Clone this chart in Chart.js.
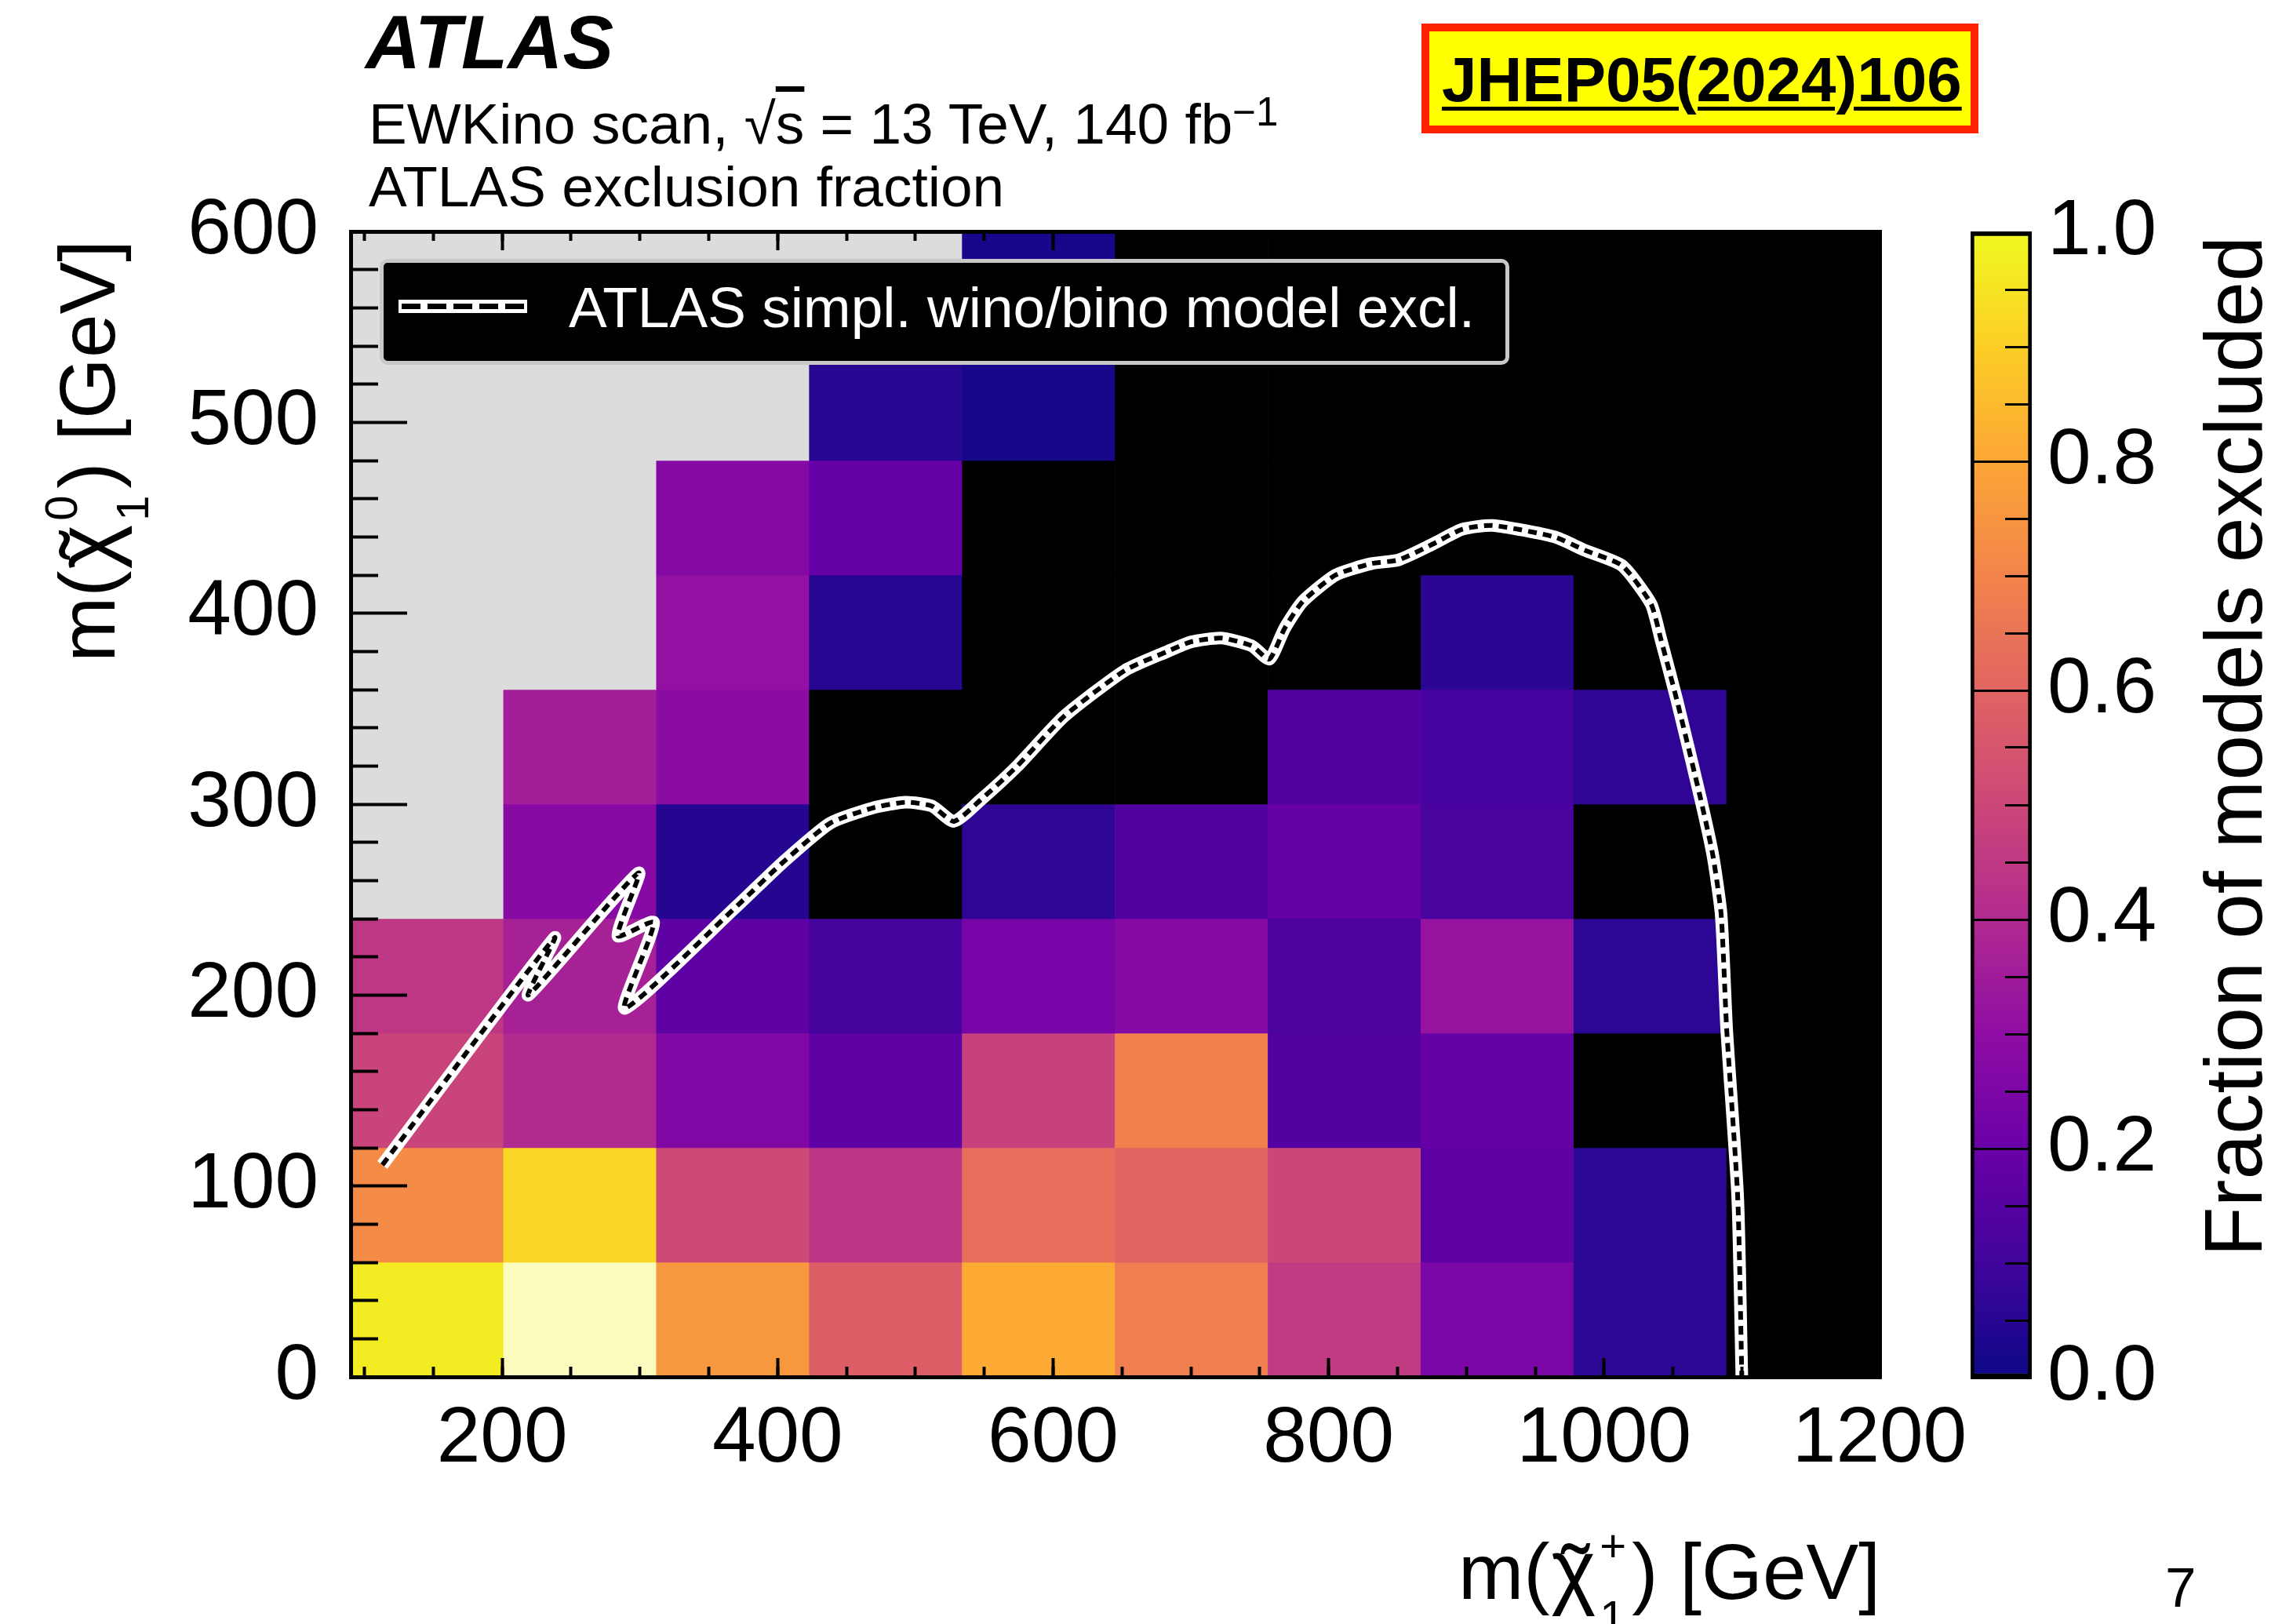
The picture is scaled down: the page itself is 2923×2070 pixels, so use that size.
<!DOCTYPE html>
<html>
<head>
<meta charset="utf-8">
<script src="https://cdn.jsdelivr.net/npm/chart.js@4.4.1/dist/chart.umd.min.js"></script>
<style>
  html, body { margin: 0; padding: 0; background: #fff; }
  body { position: relative; width: 2923px; height: 2070px; overflow: hidden;
         font-family: "Liberation Sans", Arial, sans-serif; color: #000; }
  canvas { position: absolute; top: 0; }
  .abs { position: absolute; white-space: nowrap; line-height: 1; }
  .rot { transform-origin: 0 0; transform: rotate(-90deg); }
  .chi { position: relative; display: inline-block; font-size: 108%; margin-left: 2px; }
  .chi .tl { position: absolute; left: 0.12em; top: 0.06em; }
  .ss { position: relative; display: inline-block; width: 46px; height: 10px; }
  .ss .sup, .ss .sub { position: absolute; left: 5px; font-size: 58px; line-height: 1; }
  .ss .sup { top: -87px; }
  .ss .sub { top: 4px; }
</style>
</head>
<body>
<canvas id="main" width="2556" height="2070" style="left:0"></canvas>
<canvas id="cbar" width="443" height="2070" style="left:2480px"></canvas>

<div class="abs" style="left:466px;top:5px;font-size:97px;font-weight:bold;font-style:italic">ATLAS</div>
<div class="abs" style="left:470px;top:121px;font-size:73px">EWKino scan, √<span style="text-decoration:overline">s</span> = 13 TeV, 140 fb<span style="position:relative;top:-0.45em;font-size:0.7em">−1</span></div>
<div class="abs" style="left:470px;top:201px;font-size:73px">ATLAS exclusion fraction</div>

<div style="position:absolute;left:1812px;top:30px;width:710px;height:140px;box-sizing:border-box;border:10px solid #ff2200;background:#ffff00"></div>
<div class="abs" style="left:1838px;top:62px;font-size:80px;font-weight:bold;text-decoration:underline;text-decoration-thickness:5px;text-underline-offset:7px">JHEP05(2024)106</div>

<div style="position:absolute;left:484px;top:330px;width:1440px;height:135px;box-sizing:border-box;background:#000;border:5px solid #c8c8c8;border-radius:10px"></div>
<svg style="position:absolute;left:508px;top:382px" width="164" height="17">
  <rect x="0" y="0" width="164" height="17" fill="#fff"/>
  <line x1="4" y1="8.5" x2="160" y2="8.5" stroke="#000" stroke-width="7" stroke-dasharray="24 9"/>
</svg>
<div class="abs" style="left:725px;top:355px;font-size:73px;color:#fff">ATLAS simpl. wino/bino model excl.</div>

<div class="abs rot" style="left:55px;top:906px;width:600px;text-align:right;font-size:100px">m(<span class="chi">χ<span class="tl">˜</span></span><span class="ss"><span class="sup">0</span><span class="sub">1</span></span>) [GeV]</div>
<div class="abs" style="right:526px;top:1947px;font-size:100px">m(<span class="chi">χ<span class="tl">˜</span></span><span class="ss"><span class="sup">+</span><span class="sub">1</span></span>) [GeV]</div>
<div class="abs rot" style="left:2795px;top:1701px;width:1400px;text-align:right;font-size:104px">Fraction of models excluded</div>
<div class="abs" style="left:2760px;top:1988px;font-size:71px">7</div>

<script>
// scan grid: bin edges in m(chargino) and m(neutralino), GeV
const charginoEdges = [90, 201, 312, 423, 534, 645, 756, 867, 978, 1089, 1200];
const neutralinoEdges = [0, 60, 120, 180, 240, 300, 360, 420, 480, 540, 600];

// fraction of models excluded, one row per neutralino bin (lowest first)
// null = no models in bin (grey), 0 = none excluded (black)
const excl_0_60    = [0.97, 1.00, 0.76, 0.58, 0.81, 0.68, 0.46, 0.245, 0.06, 0];
const excl_60_120  = [0.72, 0.92, 0.51, 0.44, 0.63, 0.60, 0.50, 0.17, 0.06, 0];
const excl_120_180 = [0.49, 0.40, 0.265, 0.17, 0.48, 0.69, 0.14, 0.19, 0, 0];
const excl_180_240 = [0.445, 0.37, 0.17, 0.11, 0.235, 0.27, 0.13, 0.32, 0.06, 0];
const excl_240_300 = [null, 0.28, 0.045, 0, 0.065, 0.14, 0.19, 0.12, 0, 0];
const excl_300_360 = [null, 0.36, 0.29, 0, 0, 0, 0.14, 0.115, 0.065, 0];
const excl_360_420 = [null, null, 0.31, 0.05, 0, 0, 0, 0.055, 0, 0];
const excl_420_480 = [null, null, 0.27, 0.19, 0, 0, 0, 0, 0, 0];
const excl_480_540 = [null, null, null, 0.05, 0.02, 0, 0, 0, 0, 0];
const excl_540_600 = [null, null, null, null, 0.02, 0, 0, 0, 0, 0];
const exclRows = [excl_0_60, excl_60_120, excl_120_180, excl_180_240, excl_240_300,
                  excl_300_360, excl_360_420, excl_420_480, excl_480_540, excl_540_600];

// ATLAS simplified wino/bino exclusion contour
const contourMC = [113, 238, 219, 299, 284, 310, 289, 371, 403, 438, 469, 493, 512, 528, 547, 574,
                   608, 652, 683, 700, 722, 744, 757, 768, 781, 805, 831, 851, 875, 897, 919, 964,
                   986, 1013, 1034, 1041, 1053, 1070, 1079, 1085, 1089, 1097, 1100];
const contourMN = [111, 230, 200, 264, 231, 238, 193, 247, 269, 290, 298, 301, 299, 291, 302, 320,
                   346, 370, 380, 385, 387, 383, 376, 392, 406, 420, 426, 428, 436, 444, 446, 440,
                   433, 425, 405, 387, 354, 303, 273, 242, 182, 94, 0];

// ticks
const xMajorTicks = [200, 400, 600, 800, 1000, 1200];
const xMinorTicks = [100, 150, 200, 250, 300, 350, 400, 450, 500, 550, 600, 650, 700, 750,
                     800, 850, 900, 950, 1000, 1050, 1100, 1150, 1200];
const yMajorTicks = [0, 100, 200, 300, 400, 500, 600];
const yMinorTicks = [20, 40, 60, 80, 120, 140, 160, 180, 220, 240, 260, 280, 320, 340, 360, 380,
                     420, 440, 460, 480, 520, 540, 560, 580];
const cbMajorTicks = [0, 0.2, 0.4, 0.6, 0.8, 1.0];
const cbMinorTicks = [0.05, 0.1, 0.15, 0.25, 0.3, 0.35, 0.45, 0.5, 0.55, 0.65, 0.7, 0.75,
                      0.85, 0.9, 0.95];

// plasma palette stops at 0, 0.1, ..., 1
const plasma = ['#0d0887', '#41049d', '#6a00a8', '#8f0da4', '#b12a90', '#cc4778',
                '#e16462', '#f2844b', '#fca636', '#fcce25', '#f0f921'];

const FONT = '"Liberation Sans", Arial, sans-serif';

function hexRgb(h) {
    return [parseInt(h.slice(1, 3), 16), parseInt(h.slice(3, 5), 16), parseInt(h.slice(5, 7), 16)];
}

function plasmaColor(v) {
    const t = Math.max(0, Math.min(1, v)) * (plasma.length - 1);
    const i = Math.min(Math.floor(t), plasma.length - 2);
    const f = t - i;
    const a = hexRgb(plasma[i]), b = hexRgb(plasma[i + 1]);
    const c = a.map((x, k) => Math.round(x + (b[k] - x) * f));
    return `rgb(${c[0]},${c[1]},${c[2]})`;
}

function cellColor(v) {
    if (v === null) return '#dcdcdc';
    if (v === 0) return '#000000';
    if (v >= 1) return '#fcfcbe';
    return plasmaColor(v);
}

// heat map cells as floating bars
const cells = [];
const cellColors = [];
exclRows.forEach((row, j) => {
    row.forEach((v, i) => {
        cells.push({
            x: (charginoEdges[i] + charginoEdges[i + 1]) / 2,
            y: [neutralinoEdges[j], neutralinoEdges[j + 1]]
        });
        cellColors.push(cellColor(v));
    });
});

const contour = contourMC.map((x, i) => ({ x: x, y: contourMN[i] }));

const setTicks = values => scale => { scale.ticks = values.map(v => ({ value: v })); };

function tickAxis(position, weight, min, max, ticks, len, size, extra) {
    const horiz = position === 'top' || position === 'bottom';
    return Object.assign({
        type: 'linear', position: position, weight: weight, min: min, max: max, offset: false,
        afterBuildTicks: setTicks(ticks),
        afterFit: s => { if (horiz) s.height = size; else s.width = size; },
        grid: { offset: false, drawOnChartArea: false, tickLength: len, tickWidth: 4, tickColor: '#000', z: 1 },
        border: { display: false },
        ticks: { display: false }
    }, extra || {});
}

const axisLabels = {
    color: '#000', font: { family: FONT, size: 100 }, maxRotation: 0, autoSkip: false,
    callback: v => String(v)
};
const frame = { display: true, width: 5, color: '#000', z: 1 };

new Chart(document.getElementById('main'), {
    type: 'bar',
    data: {
        datasets: [
            {
                type: 'line', data: contour, xAxisID: 'x', yAxisID: 'y',
                borderColor: '#000', borderWidth: 6, borderDash: [11, 8],
                pointRadius: 0, tension: 0.2, order: 1
            },
            {
                type: 'line', data: contour, xAxisID: 'x', yAxisID: 'y',
                borderColor: '#fff', borderWidth: 16, borderJoinStyle: 'round',
                pointRadius: 0, tension: 0.2, order: 2
            },
            {
                type: 'bar', data: cells, xAxisID: 'x', yAxisID: 'y',
                backgroundColor: cellColors, borderWidth: 0,
                barPercentage: 1, categoryPercentage: 1, order: 3
            }
        ]
    },
    options: {
        responsive: false,
        animation: false,
        devicePixelRatio: 1,
        // right padding covers the overhang of the "1200" label
        layout: { padding: { left: 0, top: 295, right: 160, bottom: 115 } },
        plugins: { legend: { display: false }, tooltip: { enabled: false } },
        scales: {
            x: tickAxis('bottom', 1, 90, 1200, xMajorTicks, -24, 200,
                { border: frame, ticks: Object.assign({ padding: 44 }, axisLabels) }),
            xMinor: tickAxis('bottom', 0, 90, 1200, xMinorTicks, -13, 0),
            xTop: tickAxis('top', 1, 90, 1200, xMajorTicks, -24, 0, { border: frame }),
            xTopMinor: tickAxis('top', 0, 90, 1200, xMinorTicks, -12, 0),
            y: tickAxis('left', 1, 0, 600, yMajorTicks, -72, 447,
                { border: frame, ticks: Object.assign({ padding: 113 }, axisLabels) }),
            yMinor: tickAxis('left', 0, 0, 600, yMinorTicks, -35, 0),
            yRight: tickAxis('right', 1, 0, 600, yMajorTicks, -72, 0, { border: frame })
        }
    }
});

// colour scale
const cbRange = [[0, 1]];

function cbGradient(ctx) {
    const area = ctx.chart.chartArea;
    if (!area) return plasma[5];
    const g = ctx.chart.ctx.createLinearGradient(0, area.bottom, 0, area.top);
    plasma.forEach((c, i) => g.addColorStop(i / (plasma.length - 1), c));
    return g;
}

new Chart(document.getElementById('cbar'), {
    type: 'bar',
    data: {
        labels: [''],
        datasets: [{
            data: cbRange, backgroundColor: cbGradient,
            borderColor: '#000', borderWidth: 5, borderSkipped: false,
            barPercentage: 1, categoryPercentage: 1
        }]
    },
    options: {
        responsive: false,
        animation: false,
        devicePixelRatio: 1,
        layout: { padding: { left: 32, top: 296, right: 0, bottom: 314 } },
        plugins: { legend: { display: false }, tooltip: { enabled: false } },
        scales: {
            x: { display: false },
            y: {
                type: 'linear', position: 'right', weight: 1, min: 0, max: 1,
                afterBuildTicks: setTicks(cbMajorTicks),
                afterFit: s => { s.width = 333; },
                grid: { drawOnChartArea: false, tickLength: -78, tickWidth: 3, tickColor: '#000', z: 1 },
                border: { display: false },
                ticks: { padding: 98, color: '#000', font: { family: FONT, size: 100 }, callback: v => v.toFixed(1) }
            },
            yMinor: {
                type: 'linear', position: 'right', weight: 0, min: 0, max: 1,
                afterBuildTicks: setTicks(cbMinorTicks),
                afterFit: s => { s.width = 0; },
                grid: { drawOnChartArea: false, tickLength: -34, tickWidth: 3, tickColor: '#000', z: 1 },
                border: { display: false },
                ticks: { display: false }
            }
        }
    }
});
</script>
</body>
</html>
